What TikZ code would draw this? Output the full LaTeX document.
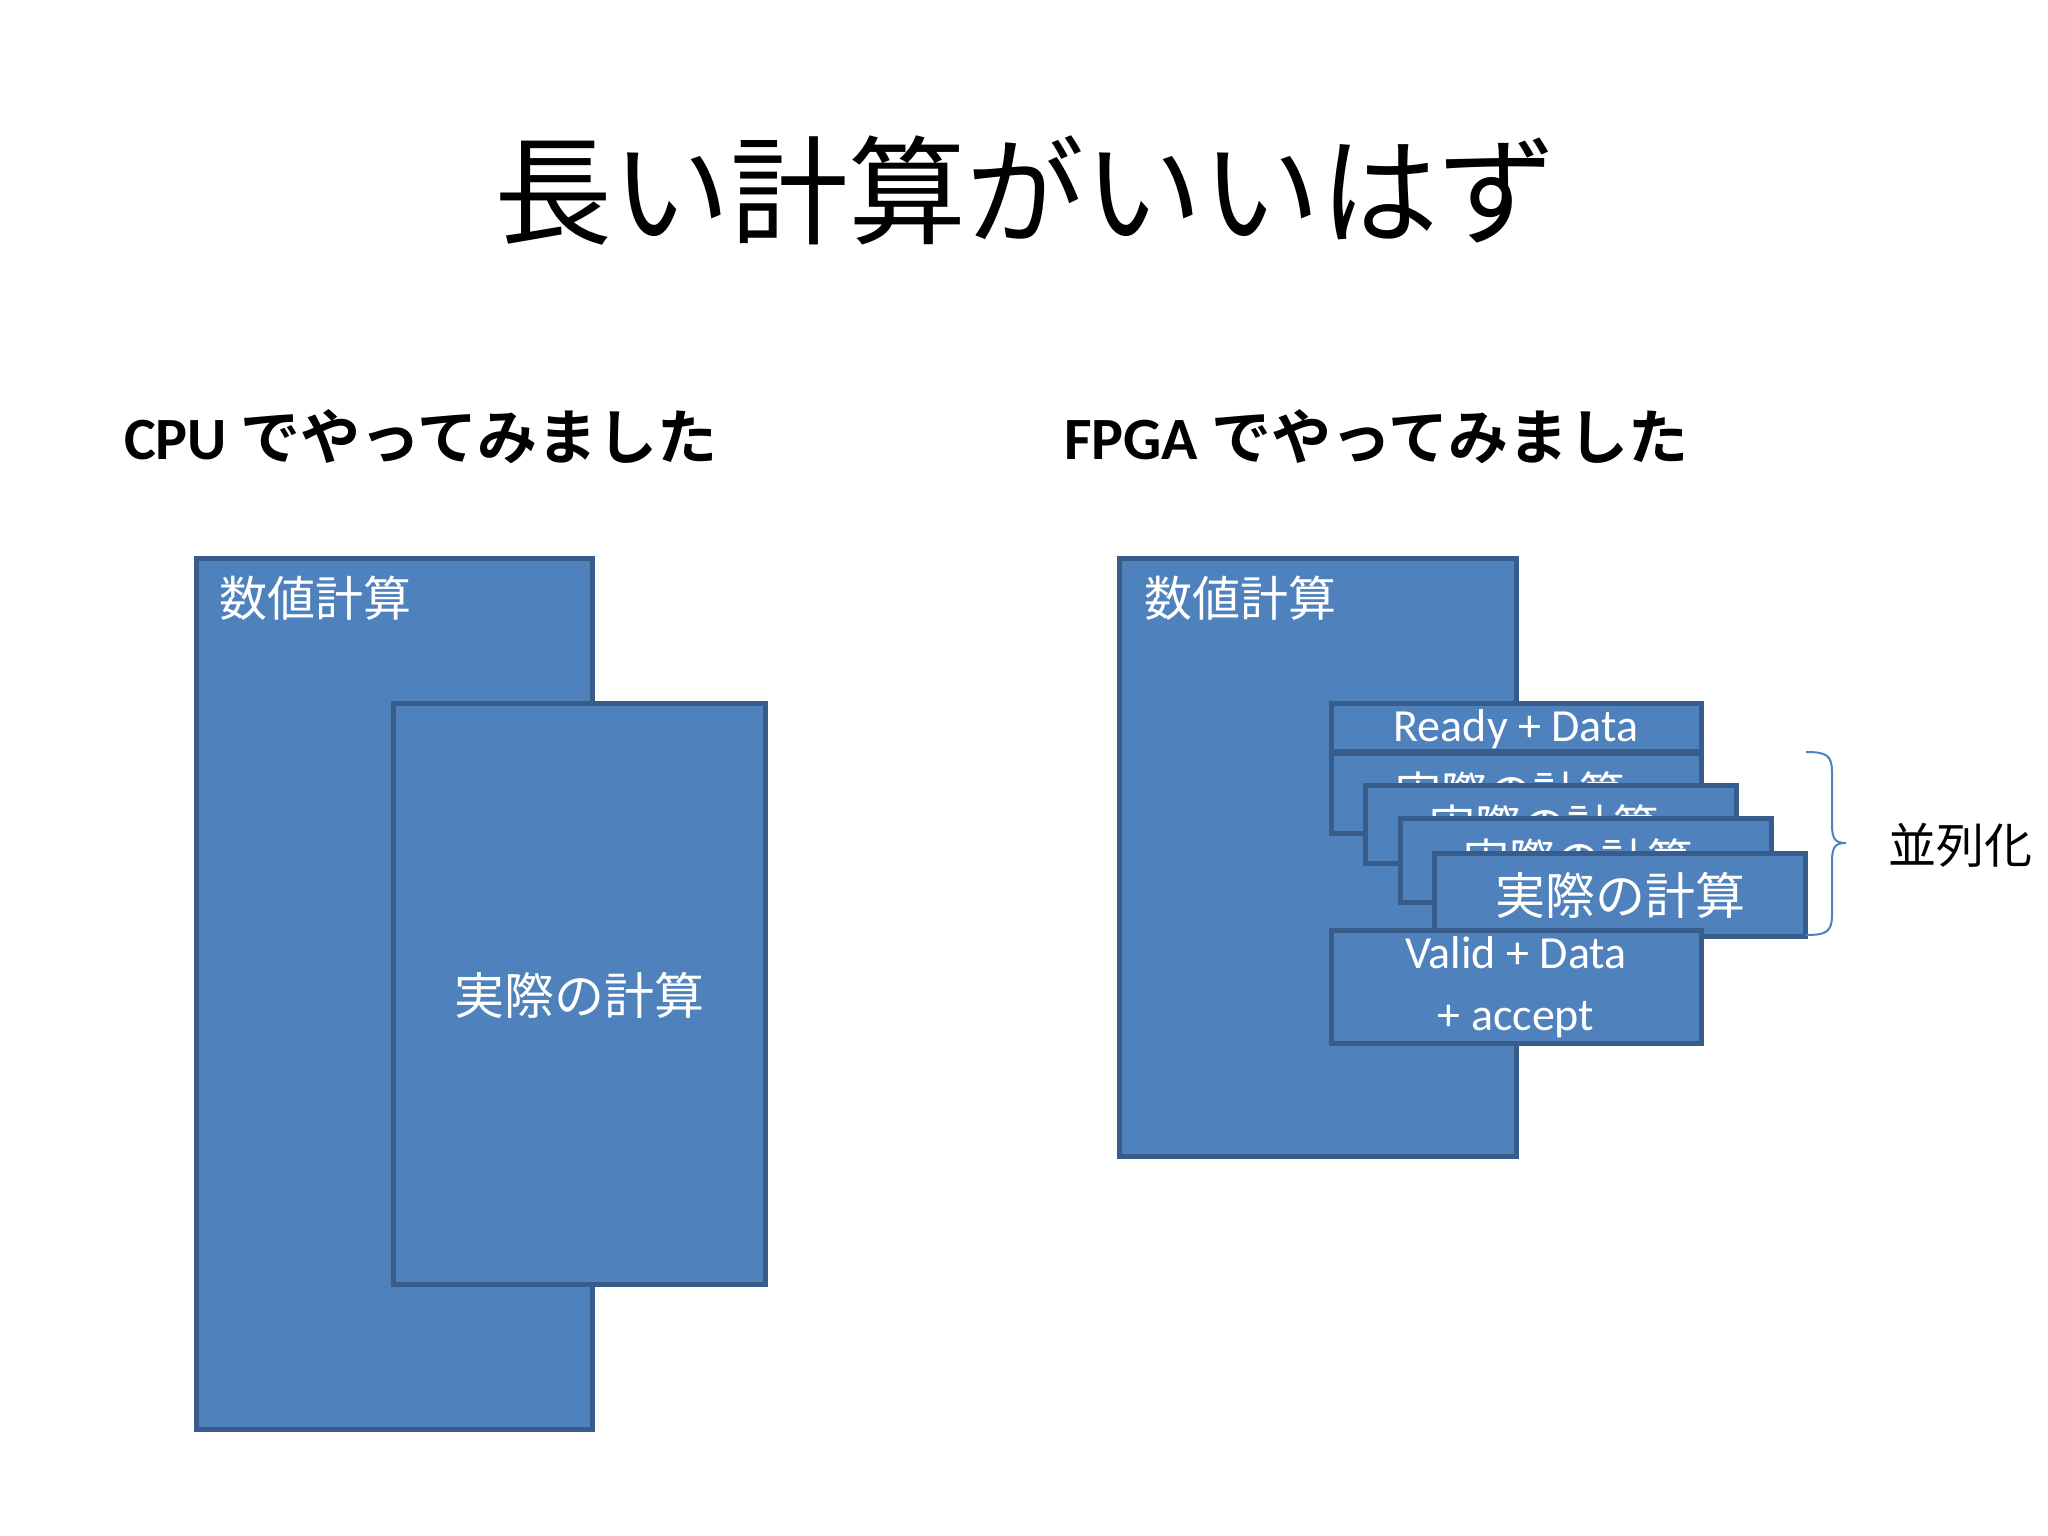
\documentclass[tikz,border=0pt]{standalone}
\usepackage{fontspec}
\setmainfont{Carlito}
\newfontfamily\cjk{Noto Sans CJK JP}
\newfontfamily\cjkb{Noto Sans CJK JP Bold}
\definecolor{boxfill}{HTML}{4F81BD}
\definecolor{boxline}{HTML}{385D8A}
\tikzset{
  blk/.style={draw=boxline, line width=5pt, fill=boxfill},
  wt/.style={text=white, inner sep=0pt},
}
\begin{document}
\begin{tikzpicture}[x=1pt,y=-1pt]
\useasboundingbox (0,0) rectangle (2048,1536);
\node[inner sep=0pt] (title) at (1025,190) {\fontsize{118}{130}\selectfont\cjk 長い計算がいいはず};
\node[anchor=west,inner sep=0pt] (cpuh) at (124,437) {\fontsize{60}{70}\selectfont\textbf{CPU} \cjkb でやってみました};
\node[anchor=west,inner sep=0pt] (fpgah) at (1064,437) {\fontsize{60}{70}\selectfont\textbf{FPGA} \cjkb でやってみました};
% CPU
\draw[blk] (196,558) rectangle (592,1429);
\node[wt,anchor=west] (cpul) at (219,598) {\fontsize{48}{50}\selectfont\cjk 数値計算};
\draw[blk] (393,703) rectangle (765,1284);
\node[wt] (cpuin) at (579,995) {\fontsize{50}{50}\selectfont\cjk 実際の計算};
% FPGA
\draw[blk] (1119,558) rectangle (1516,1156);
\node[wt,anchor=west] (fpgal) at (1144,598) {\fontsize{48}{50}\selectfont\cjk 数値計算};
\draw[blk] (1331,703) rectangle (1701,751);
\node[wt] (ready) at (1516,729) {\fontsize{46}{50}\selectfont Ready + Data};
\draw[blk] (1331,753) rectangle (1701,833);
\node[wt] (c1) at (1510,793) {\fontsize{46}{50}\selectfont\cjk 実際の計算};
\draw[blk] (1365,785) rectangle (1736,863);
\node[wt] (c2) at (1544,826) {\fontsize{46}{50}\selectfont\cjk 実際の計算};
\draw[blk] (1400,818) rectangle (1771,902);
\node[wt] (c3) at (1578,860) {\fontsize{46}{50}\selectfont\cjk 実際の計算};
\draw[blk] (1434,853) rectangle (1805,936);
\node[wt] (c4) at (1620,895) {\fontsize{50}{50}\selectfont\cjk 実際の計算};
\draw[blk] (1331,930) rectangle (1701,1043);
\node[wt,align=center,font=\fontsize{46}{62}\selectfont] (valid) at (1516,987) {Valid + Data\\+ accept};
% brace
\coordinate (bt) at (1806,752);
\coordinate (bb) at (1806,935);
\coordinate (btip) at (1846,843);
\draw[boxfill, line width=2pt] (bt) .. controls (1826,752) and (1832,755) .. (1832,772) -- (1832,825) .. controls (1832,840) and (1836,843) .. (btip)
  (bb) .. controls (1826,935) and (1832,932) .. (1832,915) -- (1832,861) .. controls (1832,846) and (1836,843) .. (btip);
\node[anchor=west,inner sep=0pt] (par) at (1888,845) {\fontsize{48}{50}\selectfont\cjk 並列化};
\end{tikzpicture}
\end{document}
